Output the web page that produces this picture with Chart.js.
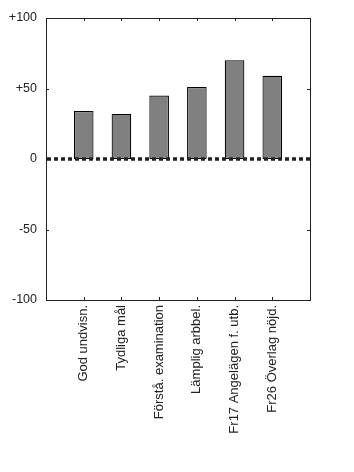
<!DOCTYPE html>
<html>
<head>
<meta charset="utf-8">
<script src="https://cdn.jsdelivr.net/npm/chart.js@4/dist/chart.umd.min.js"></script>
<style>
  html, body { margin: 0; padding: 0; background: #fff; }
</style>
</head>
<body>
<canvas id="chart" width="354" height="472"></canvas>
<script>
var categories = ['God undvisn.', 'Tydliga mål', 'Förstå. examination', 'Lämplig arbbel.', 'Fr17 Angelägen f. utb.', 'Fr26 Överlag nöjd.'];
var values = [34, 32, 45, 51, 70, 59];
var yTicks = [-100, -50, 0, 50, 100];

// blank slots at both ends give a full step of margin
var labels = [''].concat(categories, ['']);
var data = [null].concat(values, [null]);

// box, inward ticks and the dotted zero line
var frame = {
    id: 'frame',
    afterDatasetsDraw: function (chart) {
        var ctx = chart.ctx, a = chart.chartArea;
        var xs = chart.scales.x, ys = chart.scales.y;
        ctx.save();
        ctx.strokeStyle = '#222';
        ctx.lineWidth = 1;
        ctx.beginPath();
        for (var i = 1; i <= categories.length; i++) {
            var px = Math.round(xs.getPixelForValue(i)) + 0.5;
            ctx.moveTo(px, a.top); ctx.lineTo(px, a.top + 3);
            ctx.moveTo(px, a.bottom); ctx.lineTo(px, a.bottom - 3);
        }
        yTicks.forEach(function (v) {
            var py = Math.round(ys.getPixelForValue(v)) + 0.5;
            ctx.moveTo(a.left, py); ctx.lineTo(a.left + 3, py);
            ctx.moveTo(a.right, py); ctx.lineTo(a.right - 3, py);
        });
        ctx.stroke();
        ctx.strokeRect(Math.round(a.left) + 0.5, Math.round(a.top) + 0.5,
            Math.round(a.right - a.left), Math.round(a.bottom - a.top));

        var y0 = ys.getPixelForValue(0);
        ctx.strokeStyle = '#222';
        ctx.lineWidth = 3.5;
        ctx.setLineDash([4, 3]);
        ctx.beginPath();
        ctx.moveTo(a.left + 1, y0);
        ctx.lineTo(a.right, y0);
        ctx.stroke();
        ctx.restore();
    }
};

var ctx = document.getElementById('chart').getContext('2d');
var myChart = new Chart(ctx, {
    type: 'bar',
    data: {
        labels: labels,
        datasets: [{
            data: data,
            backgroundColor: '#808080',
            borderColor: '#000',
            borderWidth: 1.2,
            borderSkipped: false,
            barPercentage: 0.52,
            categoryPercentage: 1
        }]
    },
    options: {
        responsive: false,
        animation: false,
        layout: { padding: { top: 18, right: 44, left: 0, bottom: 0 } },
        plugins: { legend: { display: false }, tooltip: { enabled: false } },
        scales: {
            x: {
                offset: false,
                grid: { display: false, drawTicks: false },
                border: { display: false },
                ticks: {
                    autoSkip: false,
                    minRotation: 90,
                    maxRotation: 90,
                    padding: 5,
                    color: '#222',
                    font: { family: 'Liberation Sans, Arial', size: 13 }
                },
                afterFit: function (scale) { scale.height = 172; }
            },
            y: {
                min: -100,
                max: 100,
                grid: { display: false, drawTicks: false },
                border: { display: false },
                ticks: {
                    stepSize: 50,
                    padding: 9,
                    color: '#222',
                    font: { family: 'Liberation Sans, Arial', size: 12.5 },
                    callback: function (v) { return v > 0 ? '+' + v : '' + v; }
                },
                afterFit: function (scale) { scale.width = 46; }
            }
        }
    },
    plugins: [frame]
});
</script>
</body>
</html>
